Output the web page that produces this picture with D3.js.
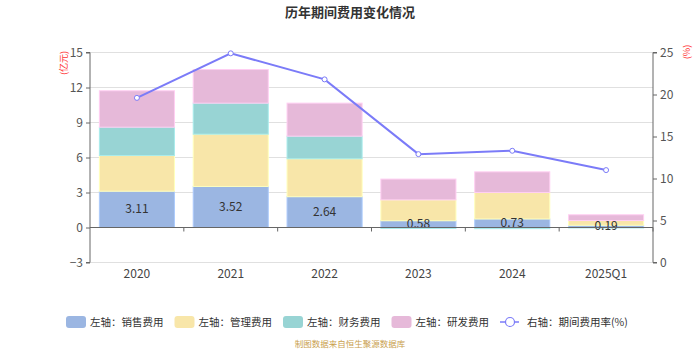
<!DOCTYPE html>
<html><head><meta charset="utf-8">
<script src="https://cdn.jsdelivr.net/npm/d3@7/dist/d3.min.js"></script>
<style>body{margin:0;background:#fff}svg{display:block;font-family:"Noto Sans CJK SC","Noto Sans",sans-serif}</style>
</head><body><svg id="c" width="700" height="350"></svg>
<script>
const categories = ["2020","2021","2022","2023","2024","2025Q1"];
const sales   = [3.11, 3.52, 2.64, 0.58, 0.73, 0.19];
const admin   = [3.06, 4.48, 3.25, 1.79, 2.27, 0.41];
const finance = [2.43, 2.66, 1.94, -0.08, -0.10, -0.02];
const rnd     = [3.12, 2.88, 2.83, 1.78, 1.77, 0.49];
const rate    = [19.6, 24.9, 21.8, 12.9, 13.3, 11.0];
const leftTicks = [-3, 0, 3, 6, 9, 12, 15];
const rightTicks = [0, 5, 10, 15, 20, 25];
const seriesNames = ["左轴：销售费用","左轴：管理费用","左轴：财务费用","左轴：研发费用"];
const lineName = "右轴：期间费用率(%)";
const colors = ["#9bb6e2","#f8e6a9","#98d4d4","#e6b9d9"];
const lineColor = "#7b7bf8";

const svg = d3.select("#c");
const L = 90, R = 653, T = 52.5, B = 262.5;
const xb = d3.scaleBand().domain(categories).range([L, R]);
const y = d3.scaleLinear().domain([-3, 15]).range([B, T]);
const y2 = d3.scaleLinear().domain([0, 25]).range([B, T]);

// title
svg.append("text").attr("x", 350).attr("y", 17).attr("text-anchor","middle")
  .attr("font-size", 13).attr("font-weight","bold").attr("fill","#333").text("历年期间费用变化情况");

// grid
svg.append("g").selectAll("line").data(leftTicks).join("line")
  .attr("x1", L).attr("x2", R).attr("y1", d=>y(d)).attr("y2", d=>y(d))
  .attr("stroke","#e0e0e0").attr("stroke-width",1);

// stacked bars
const data = categories.map((c,i)=>({c, v:[sales[i],admin[i],finance[i],rnd[i]]}));
const bw = xb.bandwidth()*0.8;
const gBars = svg.append("g");
data.forEach(d=>{
  let pos = 0, neg = 0;
  d.v.forEach((v,k)=>{
    let y0, y1;
    if (v >= 0) { y0 = pos; y1 = pos + v; pos = y1; }
    else { y0 = neg; y1 = neg + v; neg = y1; }
    const top = y(Math.max(y0,y1)), bot = y(Math.min(y0,y1));
    gBars.append("rect").attr("x", xb(d.c) + (xb.bandwidth()-bw)/2).attr("width", bw)
      .attr("y", top).attr("height", Math.max(0.5, bot-top)).attr("fill", colors[k])
      .attr("stroke", d3.color(colors[k]).brighter(0.3)).attr("stroke-width", 1);
  });
});
// labels for sales
svg.append("g").selectAll("text").data(data).join("text")
  .attr("x", d=>xb(d.c)+xb.bandwidth()/2).attr("y", d=>y(d.v[0]/2)+4)
  .attr("text-anchor","middle").attr("font-size",12).attr("fill","#333")
  .text(d=>d.v[0].toFixed(2));

// axes
const axL = svg.append("g").attr("transform",`translate(${L},0)`)
  .call(d3.axisLeft(y).tickValues(leftTicks).tickSize(4).tickFormat(d3.format("d")));
const axR = svg.append("g").attr("transform",`translate(${R},0)`)
  .call(d3.axisRight(y2).tickValues(rightTicks).tickSize(4));
[axL, axR].forEach(a=>{
  a.select(".domain").attr("stroke","#666");
  a.selectAll(".tick line").attr("stroke","#666");
  a.selectAll(".tick text").attr("fill","#555").attr("font-size",12).attr("font-family",'"Noto Sans CJK SC",sans-serif');
});
axL.select(".domain").attr("d", `M-4,${T}H0V${B}H-4`);
axR.select(".domain").attr("d", `M4,${T}H0V${B}H4`);

// zero axis with category ticks
const gx = svg.append("g").attr("transform",`translate(0,${y(0)})`);
gx.append("line").attr("x1",L).attr("x2",R).attr("stroke","#666");
gx.selectAll("line.t").data(categories).join("line").attr("class","t")
  .attr("x1",(d,i)=>L + xb.step()*(i+1)).attr("x2",(d,i)=>L + xb.step()*(i+1))
  .attr("y1",0).attr("y2",4).attr("stroke","#666");
svg.append("g").selectAll("text").data(categories).join("text")
  .attr("x", d=>xb(d)+xb.bandwidth()/2).attr("y", 278).attr("text-anchor","middle")
  .attr("font-size",12).attr("fill","#444").text(d=>d);

// axis units
svg.append("text").attr("transform","translate(67,63) rotate(-90)").attr("text-anchor","middle")
  .attr("font-size",9).attr("fill","#f33").text("(亿元)");
svg.append("text").attr("transform","translate(690,52) rotate(-90)").attr("text-anchor","middle")
  .attr("font-size",9).attr("fill","#f33").text("(%)");

// line
const line = d3.line().x((d,i)=>xb(categories[i])+xb.bandwidth()/2).y(d=>y2(d));
svg.append("path").datum(rate).attr("d", line).attr("fill","none").attr("stroke",lineColor).attr("stroke-width",2);
svg.append("g").selectAll("circle").data(rate).join("circle")
  .attr("cx",(d,i)=>xb(categories[i])+xb.bandwidth()/2).attr("cy", d=>y2(d)).attr("r",2.5)
  .attr("fill","#fff").attr("stroke",lineColor).attr("stroke-width",1);

// legend
const lg = svg.append("g").attr("font-size",10.5).attr("fill","#333");
const lx = [66, 174.5, 283, 391.5];
seriesNames.forEach((n,k)=>{
  lg.append("rect").attr("x",lx[k]).attr("y",316).attr("width",20).attr("height",12).attr("rx",3).attr("fill",colors[k]);
  lg.append("text").attr("x",lx[k]+24).attr("y",325.5).attr("fill","#333").text(n);
});
lg.append("line").attr("x1",500).attr("x2",519).attr("y1",322).attr("y2",322).attr("stroke",lineColor).attr("stroke-width",1.5);
lg.append("circle").attr("cx",510).attr("cy",322).attr("r",4.5).attr("fill","#fff").attr("stroke",lineColor).attr("stroke-width",1.2);
lg.append("text").attr("x",527).attr("y",325.5).attr("fill","#333").text(lineName);

// source
svg.append("text").attr("x",350).attr("y",347).attr("text-anchor","middle").attr("font-size",8.5)
  .attr("fill","#c9a04d").text("制图数据来自恒生聚源数据库");
</script></body></html>
